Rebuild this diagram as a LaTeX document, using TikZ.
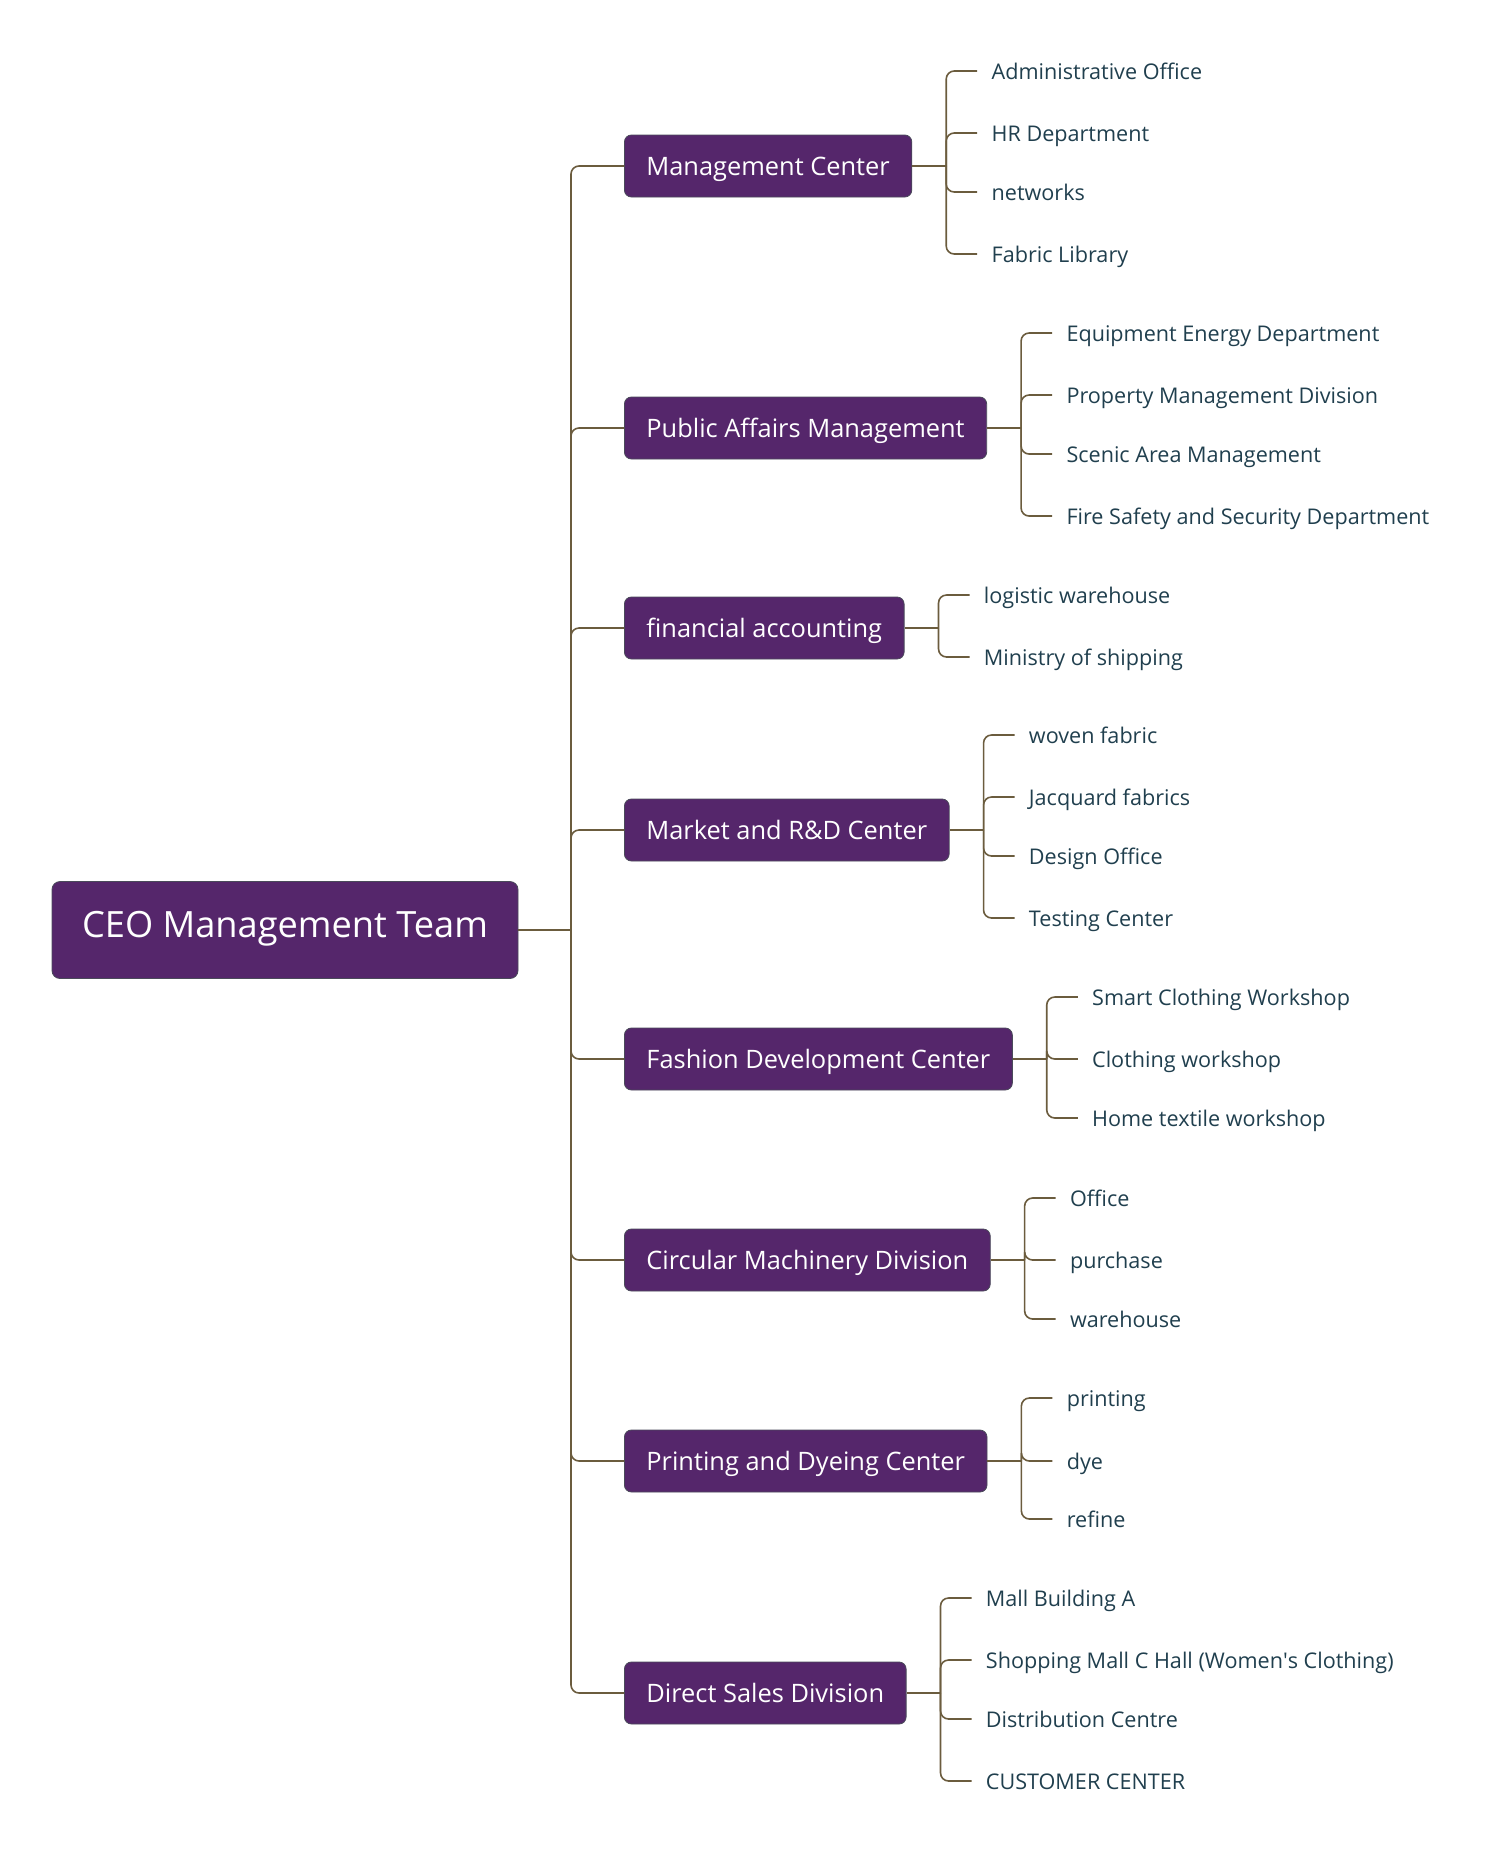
\documentclass[tikz,border=0pt]{standalone}
\usepackage{fontspec}
\setmainfont{Open Sans}
\definecolor{boxfill}{HTML}{55266B}
\definecolor{boxline}{HTML}{4A4A5A}
\definecolor{linkcol}{HTML}{6B5C3E}
\definecolor{leafcol}{HTML}{203F4E}
\begin{document}
\begin{tikzpicture}[x=0.5pt,y=-0.5pt]
  \tikzstyle{root}=[draw=boxline,fill=boxfill,text=white,rounded corners=4pt,
    minimum width=233pt,minimum height=48.5pt,text height=0.95em,text depth=0.18em,
    font=\fontsize{18.1}{22}\selectfont]
  \tikzstyle{unit}=[draw=boxline,fill=boxfill,text=white,rounded corners=3.5pt,
    anchor=west,minimum height=31pt,inner xsep=11pt,text height=1.05em,text depth=0.15em,
    font=\fontsize{12.7}{15}\selectfont]
  \tikzstyle{leaf}=[anchor=west,xshift=32.5pt,inner xsep=7pt,inner ysep=2pt,
    text height=1em,text depth=0.16em,text=leafcol,font=\fontsize{10.8}{13}\selectfont]
  \tikzstyle{link}=[draw=linkcol,line width=0.8pt,rounded corners=4pt]
  \useasboundingbox (0,0) rectangle (1500,1859);
  % root and units
  \node[root] (ceo) at (285,930) {CEO Management Team};
  \node[unit] (mc) at (624,166) {Management Center};
  \node[unit] (pa) at (624,428) {Public Affairs Management};
  \node[unit] (fa) at (624,628) {financial accounting};
  \node[unit] (mr) at (624,830) {Market and R\&D Center};
  \node[unit] (fd) at (624,1059) {Fashion Development Center};
  \node[unit] (cm) at (624,1260) {Circular Machinery Division};
  \node[unit] (pd) at (624,1461) {Printing and Dyeing Center};
  \node[unit] (ds) at (624,1693) {Direct Sales Division};
  % leaves
  \node[leaf] (mc1) at (mc.east |- 0,71) {Administrative Office};
  \node[leaf] (mc2) at (mc.east |- 0,133) {HR Department};
  \node[leaf] (mc3) at (mc.east |- 0,192) {networks};
  \node[leaf] (mc4) at (mc.east |- 0,254) {Fabric Library};
  \node[leaf] (pa1) at (pa.east |- 0,333) {Equipment Energy Department};
  \node[leaf] (pa2) at (pa.east |- 0,395) {Property Management Division};
  \node[leaf] (pa3) at (pa.east |- 0,454) {Scenic Area Management};
  \node[leaf] (pa4) at (pa.east |- 0,516) {Fire Safety and Security Department};
  \node[leaf] (fa1) at (fa.east |- 0,595) {logistic warehouse};
  \node[leaf] (fa2) at (fa.east |- 0,657) {Ministry of shipping};
  \node[leaf] (mr1) at (mr.east |- 0,735) {woven fabric};
  \node[leaf] (mr2) at (mr.east |- 0,797) {Jacquard fabrics};
  \node[leaf] (mr3) at (mr.east |- 0,856) {Design Office};
  \node[leaf] (mr4) at (mr.east |- 0,918) {Testing Center};
  \node[leaf] (fd1) at (fd.east |- 0,997) {Smart Clothing Workshop};
  \node[leaf] (fd2) at (fd.east |- 0,1059) {Clothing workshop};
  \node[leaf] (fd3) at (fd.east |- 0,1118) {Home textile workshop};
  \node[leaf] (cm1) at (cm.east |- 0,1198) {Office};
  \node[leaf] (cm2) at (cm.east |- 0,1260) {purchase};
  \node[leaf] (cm3) at (cm.east |- 0,1319) {warehouse};
  \node[leaf] (pd1) at (pd.east |- 0,1398) {printing};
  \node[leaf] (pd2) at (pd.east |- 0,1461) {dye};
  \node[leaf] (pd3) at (pd.east |- 0,1519) {refine};
  \node[leaf] (ds1) at (ds.east |- 0,1598) {Mall Building A};
  \node[leaf] (ds2) at (ds.east |- 0,1660) {Shopping Mall C Hall (Women\textquotesingle s Clothing)};
  \node[leaf] (ds3) at (ds.east |- 0,1719) {Distribution Centre};
  \node[leaf] (ds4) at (ds.east |- 0,1781) {CUSTOMER CENTER};
  % trunk
  \draw[link] (ceo.east) -- (571,930) coordinate (trunk);
  \foreach \u in {mc,pa,fa,mr,fd,cm,pd,ds}
    \draw[link] (trunk) |- (\u.west);
  % brackets
  \foreach \u/\n in {mc/4,pa/4,fa/2,mr/4,fd/3,cm/3,pd/3,ds/4}{
    \draw[link] (\u.east) -- ++(34,0) coordinate (\u b);
    \foreach \i in {1,...,\n}
      \draw[link] (\u b) |- (\u\i.west);
  }
\end{tikzpicture}
\end{document}
